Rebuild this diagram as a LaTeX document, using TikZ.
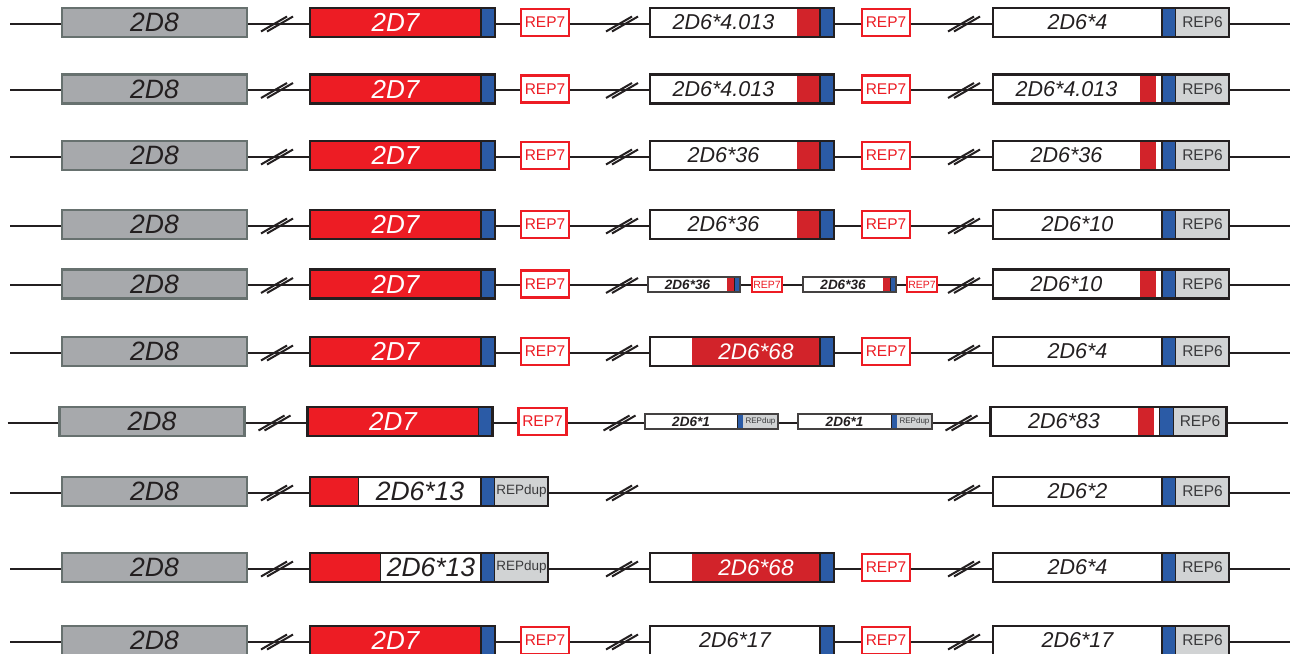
\documentclass[tikz,border=0pt]{standalone}
\usepackage{fontspec}
\setmainfont{Liberation Sans}
\usetikzlibrary{positioning, calc}

\definecolor{framecol}{HTML}{231F20}
\definecolor{d8gray}{HTML}{A7A9AC}
\definecolor{d8edge}{HTML}{67716F}
\definecolor{d7red}{HTML}{ED1C24}
\definecolor{d6red}{HTML}{D2232A}
\definecolor{exblue}{HTML}{2B5BA6}
\definecolor{repgray}{HTML}{D1D3D4}
\definecolor{reptext}{HTML}{3A3A3C}

\begin{document}
\begin{tikzpicture}[
    x=1pt, y=-1pt,
    % Define the pieces of one gene row
    backbone/.style={draw=framecol, line width=2pt},
    cut_mark/.style={draw=framecol, line width=2pt},
    frame/.style={draw=framecol, line width=2.6pt},
    mini_frame/.style={draw=framecol!85, line width=1.2pt},
    seg/.style={rectangle, inner sep=0pt, outer sep=0pt, minimum height=29pt, anchor=west},
    d8_node/.style={seg, fill=d8gray, draw=d8edge, line width=2.2pt, minimum width=185pt, text=framecol, font=\fontsize{26.5}{26.5}\selectfont\itshape},
    d7_seg/.style={seg, fill=d7red, minimum width=171pt, text=white, font=\fontsize{26}{26}\selectfont\itshape},
    blue_seg/.style={seg, fill=exblue, draw=framecol, line width=1.2pt, minimum width=14pt},
    white_seg/.style={seg, fill=white, text=framecol, font=\fontsize{21.5}{21.5}\selectfont\itshape},
    red_seg/.style={seg, fill=d6red},
    rep6_seg/.style={seg, fill=repgray, minimum width=53pt, text=reptext, font=\fontsize{15.5}{15.5}\selectfont},
    dup_seg/.style={seg, fill=repgray, minimum width=53pt, text=reptext, font=\fontsize{13.5}{13.5}\selectfont},
    rep7_node/.style={seg, fill=white, draw=d7red, line width=2.4pt, minimum width=48pt, minimum height=27pt, text=d7red, font=\fontsize{15.5}{15.5}\selectfont},
    mini_white/.style={white_seg, minimum height=15pt, font=\fontsize{13.5}{13.5}\selectfont\bfseries\itshape},
    mini_blue/.style={blue_seg, minimum height=15pt, minimum width=6pt, line width=0.6pt},
    mini_rep7/.style={rep7_node, minimum width=30pt, minimum height=15pt, line width=1.2pt, font=\fontsize{10.5}{10.5}\selectfont},
    mini_dup/.style={dup_seg, minimum height=15pt, minimum width=35pt, font=\fontsize{8}{8}\selectfont}
]
    \useasboundingbox (0,0) rectangle (1292,653);

    % Break mark "//" on the backbone
    \newcommand{\cutmark}[2]{%
        \draw[cut_mark] (#1-16, #2+8) -- (#1+10, #2-7) (#1-10, #2+8) -- (#1+16, #2-7);}

    % --- Backbone, 2D8 and the three breaks in every row ---
    \foreach \r/\y/\dx in {1/22.5/0, 2/89/0, 3/155.5/0, 4/224.5/0, 5/284/0, 6/351.5/0, 7/421.5/-2.5, 8/491.5/0, 9/567.5/0, 10/640.5/0} {
        \coordinate (r\r_l) at (\dx+10, \y+1);
        \coordinate (r\r_r) at (\dx+1290, \y+1);
        \draw[backbone] (r\r_l) -- (r\r_r);
        \node[d8_node] (r\r_d8) at (\dx+62, \y) {2D8};
        \cutmark{\dx+277}{\y+1}
        \cutmark{\dx+622}{\y+1}
        \cutmark{\dx+964}{\y+1}
    }

    % --- 2D7 and the first REP7 ---
    \foreach \r/\y/\dx in {1/22.5/0, 2/89/0, 3/155.5/0, 4/224.5/0, 5/284/0, 6/351.5/0, 7/421.5/-2.5, 10/640.5/0} {
        \node[d7_seg] (r\r_d7) at (\dx+310, \y) {2D7};
        \node[blue_seg, right=0pt of r\r_d7] (r\r_d7b) {};
        \draw[frame] (r\r_d7.north west) rectangle (r\r_d7b.south east);
        \node[rep7_node] (r\r_rep7a) at (\dx+521, \y) {REP7};
    }

    % --- Hybrid 2D6*13 genes in rows 8 and 9 ---
    \foreach \r/\y/\wr/\ww in {8/491.5/49/122, 9/567.5/71/100} {
        \node[seg, fill=d7red, draw=framecol, line width=1.2pt, minimum width=\wr pt] (r\r_h) at (310, \y) {};
        \node[white_seg, minimum width=\ww pt, font=\fontsize{26.5}{26.5}\selectfont\itshape, right=0pt of r\r_h] (r\r_hw) {2D6*13};
        \node[blue_seg, right=0pt of r\r_hw] (r\r_hb) {};
        \node[dup_seg, right=0pt of r\r_hb] (r\r_hd) {REPdup};
        \draw[frame] (r\r_h.north west) rectangle (r\r_hd.south east);
    }

    % --- Middle genes ---
    \foreach \r/\y/\lbl in {1/22.5/4.013, 2/89/4.013, 3/155.5/36, 4/224.5/36} {
        \node[white_seg, minimum width=147pt] (r\r_m) at (650, \y) {2D6*\lbl};
        \node[red_seg, minimum width=23pt, right=0pt of r\r_m] (r\r_mr) {};
        \node[blue_seg, right=0pt of r\r_mr] (r\r_mb) {};
        \draw[frame] (r\r_m.north west) rectangle (r\r_mb.south east);
    }
    \foreach \r/\y in {6/351.5, 9/567.5} {
        \node[white_seg, minimum width=42pt] (r\r_m) at (650, \y) {};
        \node[red_seg, minimum width=128pt, text=white, font=\fontsize{22.5}{22.5}\selectfont\itshape, right=0pt of r\r_m] (r\r_mr) {2D6*68};
        \node[blue_seg, right=0pt of r\r_mr] (r\r_mb) {};
        \draw[frame] (r\r_m.north west) rectangle (r\r_mb.south east);
    }
    \node[white_seg, minimum width=170pt] (r10_m) at (650, 640.5) {2D6*17};
    \node[blue_seg, right=0pt of r10_m] (r10_mb) {};
    \draw[frame] (r10_m.north west) rectangle (r10_mb.south east);

    % Row 5: two short 2D6*36 copies
    \foreach \n/\x/\w in {1/648/79, 2/803/80} {
        \node[mini_white, minimum width=\w pt] (r5_s\n) at (\x, 284.5) {2D6*36};
        \node[seg, minimum height=15pt, minimum width=7pt, fill=d6red, right=0pt of r5_s\n] (r5_s\n r) {};
        \node[mini_blue, right=0pt of r5_s\n r] (r5_s\n b) {};
        \draw[mini_frame] (r5_s\n.north west) rectangle (r5_s\n b.south east);
        \node[mini_rep7] (r5_s\n p) at (\x+104, 284.5) {REP7};
    }

    % Row 7: two short 2D6*1 copies
    \foreach \n/\x/\w in {1/645/92, 2/798/93} {
        \node[mini_white, minimum width=\w pt] (r7_s\n) at (\x, 421.5) {2D6*1};
        \node[mini_blue, right=0pt of r7_s\n] (r7_s\n b) {};
        \node[mini_dup, right=0pt of r7_s\n b] (r7_s\n d) {REPdup};
        \draw[mini_frame] (r7_s\n.north west) rectangle (r7_s\n d.south east);
    }

    % --- Second REP7 ---
    \foreach \r/\y in {1/22.5, 2/89, 3/155.5, 4/224.5, 6/351.5, 9/567.5, 10/640.5} {
        \node[rep7_node] (r\r_rep7b) at (862, \y) {REP7};
    }

    % --- Right genes with REP6 ---
    \foreach \r/\y/\lbl in {1/22.5/4, 4/224.5/10, 6/351.5/4, 8/491.5/2, 9/567.5/4, 10/640.5/17} {
        \node[white_seg, minimum width=169pt] (r\r_g) at (993, \y) {2D6*\lbl};
        \node[blue_seg, right=0pt of r\r_g] (r\r_gb) {};
        \node[rep6_seg, right=0pt of r\r_gb] (r\r_g6) {REP6};
        \draw[frame] (r\r_g.north west) rectangle (r\r_g6.south east);
    }
    \foreach \r/\y/\dx/\lbl in {2/89/0/4.013, 3/155.5/0/36, 5/284/0/10, 7/421.5/-2.5/83} {
        \node[white_seg, minimum width=147pt] (r\r_g) at (\dx+993, \y) {2D6*\lbl};
        \node[red_seg, minimum width=16pt, right=0pt of r\r_g] (r\r_gr) {};
        \node[white_seg, minimum width=6pt, right=0pt of r\r_gr] (r\r_gw) {};
        \node[blue_seg, right=0pt of r\r_gw] (r\r_gb) {};
        \node[rep6_seg, right=0pt of r\r_gb] (r\r_g6) {REP6};
        \draw[frame] (r\r_g.north west) rectangle (r\r_g6.south east);
    }

\end{tikzpicture}
\end{document}
